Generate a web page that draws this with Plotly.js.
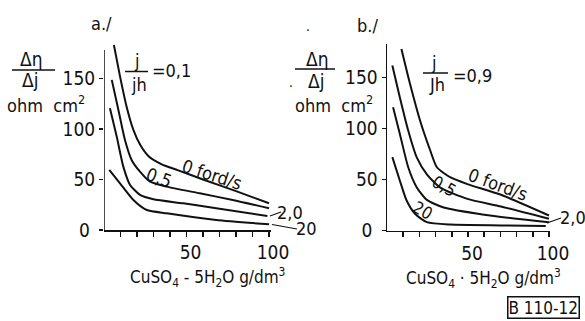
<!DOCTYPE html>
<html><head><meta charset="utf-8">
<script src="https://cdn.plot.ly/plotly-3.0.1.min.js"></script>
<style>html,body{margin:0;padding:0;background:#fff}</style>
</head><body><div id="chart" style="width:585px;height:321px"></div>
<script>
// ---- data ----
// panel a  (j/jh = 0,1)
const a0x  = [6, 9.7, 13.7, 17.8, 22, 27, 35, 45, 60, 80, 100];
const a0y  = [183, 152, 122, 99, 84, 73, 65, 59, 50, 38.5, 26.4];
const a05x = [4.7, 8.7, 12.7, 16.8, 21.8, 27.9, 38, 58, 78, 100];
const a05y = [148.5, 119, 89, 69, 57.7, 47.8, 42.9, 36.3, 29.7, 21.5];
const a2x  = [3.6, 7.7, 11.7, 15.8, 21.8, 29.9, 48, 68, 99];
const a2y  = [120.5, 92.4, 62.7, 44.6, 34.7, 30.4, 26.4, 21.5, 13.9];
const a20x = [3.2, 9.7, 17.8, 25.9, 38, 68, 100];
const a20y = [59.4, 46.2, 29.7, 19.8, 16.5, 9.9, 5.6];
// panel b  (j/jh = 0,9)
const b0x  = [8.9, 14.2, 20.4, 26.7, 30.8, 39.2, 49.6, 70.4, 100];
const b0y  = [178, 143.8, 107.8, 78.4, 62, 52, 45.5, 35, 14.7];
const b05x = [3.3, 7.9, 13.1, 18.3, 24.6, 32.9, 49.6, 70.4, 100];
const b05y = [161.8, 130.7, 98, 71.9, 55, 42, 31, 23.5, 11.5];
const b2x  = [3.75, 7.9, 13.1, 18.3, 24.6, 35, 60, 100];
const b2y  = [120.9, 94.8, 62, 42.5, 30, 22.5, 15.5, 8];
const b20x = [3.3, 7.9, 12.1, 17.3, 24.6, 39.2, 70.4, 98];
const b20y = [71.9, 49, 29.4, 16.4, 8.2, 5.8, 5, 4.5];
// ticks
const xTickVals = [10, 20, 30, 40, 50, 60, 70, 80, 90, 100];
const xTickText = ["", "", "", "", "50", "", "", "", "", "100"];
const yTickVals = [0, 50, 100, 150];
const yTickText = ["0 ", "50", "100", "150"];

const W = 585, H = 321;
const FONT = "DejaVu Sans Condensed, Liberation Sans, sans-serif";
const px = X => X / W, py = Y => 1 - Y / H;

function tr(x, y, xa, ya) {
  return {x: x, y: y, xaxis: xa, yaxis: ya, type: 'scatter', mode: 'lines',
    line: {color: '#111', width: 2, shape: 'spline', smoothing: 0.6}, hoverinfo: 'skip'};
}
const data = [
  tr(a0x, a0y, 'x', 'y'), tr(a05x, a05y, 'x', 'y'), tr(a2x, a2y, 'x', 'y'), tr(a20x, a20y, 'x', 'y'),
  tr(b0x, b0y, 'x2', 'y2'), tr(b05x, b05y, 'x2', 'y2'), tr(b2x, b2y, 'x2', 'y2'), tr(b20x, b20y, 'x2', 'y2')
];

function xax(dom, rng) {
  return {domain: dom, range: rng, showgrid: false, zeroline: false, showline: true,
    linecolor: '#111', linewidth: 1.5, ticks: 'outside', ticklen: 5, tickwidth: 1.5, tickcolor: '#111',
    tickmode: 'array', tickvals: xTickVals, ticktext: xTickText, ticklabelshift: 4,
    tickfont: {family: FONT, size: 19, color: '#111'}, fixedrange: true};
}
function yax(dom, rng, anchor, line) {
  return {domain: dom, range: rng, anchor: anchor, showgrid: false, zeroline: false, showline: line,
    linecolor: '#111', linewidth: 1.5, ticks: 'outside', ticklen: 4, tickwidth: 1.5, tickcolor: '#111',
    tickmode: 'array', tickvals: yTickVals, ticktext: yTickText,
    tickfont: {family: FONT, size: 19, color: '#111'}, fixedrange: true};
}

function ann(X, Y, text, size, angle, extra) {
  return Object.assign({xref: 'paper', yref: 'paper', x: px(X), y: py(Y), text: text, showarrow: false,
    xanchor: 'center', yanchor: 'middle', textangle: angle || 0,
    font: {family: FONT, size: size, color: '#111'}}, extra || {});
}
function seg(X0, Y0, X1, Y1, w) {
  return {type: 'line', xref: 'paper', yref: 'paper', x0: px(X0), y0: py(Y0), x1: px(X1), y1: py(Y1),
    line: {color: '#111', width: w || 1.5}};
}

const annotations = [
  // panel a
  ann(101, 23, 'a./', 18),
  ann(31, 59, 'Δη', 19), ann(30, 80, 'Δj', 19), ann(46, 104, 'ohm  cm<sup>2</sup>', 18),
  ann(137, 60, 'j', 18), ann(139, 84, 'jh', 18), ann(150, 70, '=0,1', 18, 0, {xanchor: 'left'}),
  ann(212, 175, '0 ford/s', 18, 18), ann(159, 178, '0,5', 18, 20),
  ann(290, 212, '2,0', 18), ann(306, 228, '20', 18),
  ann(207, 277, 'CuSO<sub>4</sub> - 5H<sub>2</sub>O g/dm<sup>3</sup>', 17),
  // panel b
  ann(367, 25, 'b./', 18),
  ann(317, 59, 'Δη', 19), ann(316, 81, 'Δj', 19), ann(334, 104, 'ohm  cm<sup>2</sup>', 18),
  ann(434, 62, 'j', 18), ann(437, 84, 'Jh', 18), ann(451, 75, '=0,9', 18, 0, {xanchor: 'left'}),
  ann(498, 185, '0 ford/s', 18, 20), ann(444, 186, '0,5', 17, 30), ann(422, 210, '20', 17, 30),
  ann(573, 217, '2,0', 18),
  ann(484, 278, 'CuSO<sub>4</sub> · 5H<sub>2</sub>O g/dm<sup>3</sup>', 17),
  ann(543, 307, 'B 110-12', 17, 0, {bordercolor: '#111', borderwidth: 1.5, borderpad: 0}),
  ann(308, 26, '.', 14), ann(291, 82, '.', 14)
];

const shapes = [
  // panel a y-axis line (ends at 178 while curve starts above)
  {type: 'line', xref: 'x', yref: 'y', x0: 0, x1: 0, y0: 0, y1: 178, line: {color: '#111', width: 1.5}},
  // fraction bars
  seg(12, 70, 55, 70), seg(295, 69, 335, 69),
  seg(125, 71.5, 148, 71.5), seg(423, 73, 448, 73),
  // leaders
  seg(270, 216, 281, 212, 1.2), seg(272, 224.5, 297, 229, 1.2),
  seg(547, 223, 561, 218, 1.2)
];

const layout = {
  width: W, height: H, margin: {l: 0, r: 0, t: 0, b: 0},
  paper_bgcolor: '#fff', plot_bgcolor: 'rgba(0,0,0,0)', showlegend: false,
  xaxis: xax([104 / W, 270.7 / W], [0, 101]),
  yaxis: yax([(H - 230) / H, (H - 44) / H], [0, 184], 'x', false),
  xaxis2: Object.assign(xax([387 / W, 549.8 / W], [0, 100.5]), {anchor: 'y2'}),
  yaxis2: yax([(H - 230.5) / H, (H - 43.8) / H], [0, 183], 'x2', true),
  annotations: annotations, shapes: shapes
};
layout.xaxis.anchor = 'y';
Plotly.newPlot('chart', data, layout, {staticPlot: true, displayModeBar: false});
</script></body></html>
